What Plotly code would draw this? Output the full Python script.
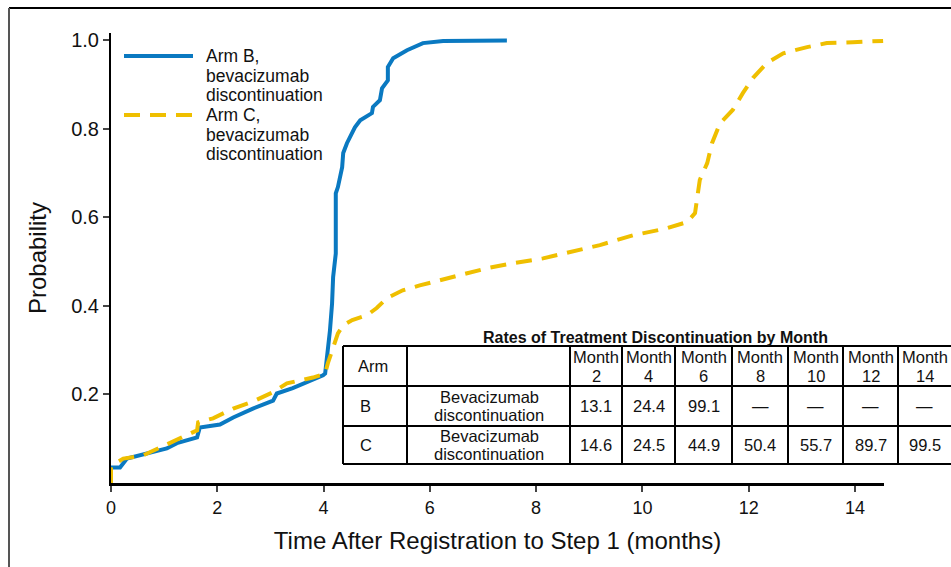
import plotly.graph_objects as go

# Cumulative probability of bevacizumab discontinuation
arm_b_months = [0, 0.17, 0.30, 0.68, 1.05, 1.24, 1.62, 1.67, 2.05, 2.30, 2.67, 3.05, 3.12, 3.42,
                3.80, 3.99, 4.03, 4.08, 4.12, 4.16, 4.18, 4.23, 4.23, 4.27, 4.35, 4.37, 4.44,
                4.59, 4.69, 4.91, 4.93, 5.06, 5.10, 5.21, 5.21, 5.31, 5.57, 5.87, 6.25, 7.45]
arm_b_prob = [0.035, 0.035, 0.055, 0.067, 0.078, 0.090, 0.103, 0.125, 0.132, 0.148, 0.168, 0.186,
              0.202, 0.214, 0.232, 0.243, 0.247, 0.293, 0.344, 0.405, 0.465, 0.518, 0.654, 0.668,
              0.713, 0.745, 0.767, 0.803, 0.819, 0.835, 0.849, 0.864, 0.891, 0.909, 0.939, 0.959,
              0.977, 0.993, 0.998, 0.999]

arm_c_months = [0, 0, 0.02, 0.23, 0.60, 0.92, 1.30, 1.62, 1.64, 1.92, 2.30, 2.67, 3.05, 3.31,
                3.80, 4.03, 4.08, 4.18, 4.27, 4.37, 4.54, 4.82, 5.00, 5.19, 5.49, 5.81, 6.19,
                6.70, 7.08, 7.56, 8.13, 9.20, 9.82, 10.46, 10.84, 10.99, 11.03, 11.08, 11.22,
                11.31, 11.46, 11.70, 11.89, 12.08, 12.34, 12.65, 13.10, 13.47, 13.96, 14.53]
arm_c_prob = [0, 0.035, 0.040, 0.055, 0.062, 0.080, 0.103, 0.119, 0.137, 0.146, 0.168, 0.184,
              0.205, 0.225, 0.238, 0.247, 0.270, 0.306, 0.338, 0.356, 0.368, 0.379, 0.395, 0.417,
              0.435, 0.446, 0.458, 0.473, 0.485, 0.496, 0.507, 0.537, 0.559, 0.575, 0.589, 0.609,
              0.638, 0.684, 0.722, 0.767, 0.812, 0.842, 0.880, 0.914, 0.948, 0.970, 0.984, 0.993,
              0.995, 0.998]

# Inset table: rates (%) by month
table_title = "Rates of Treatment Discontinuation by Month"
table_months = [2, 4, 6, 8, 10, 12, 14]
table_arms = ["B", "C"]
table_label = "Bevacizumab<br>discontinuation"
rates_b = ["13.1", "24.4", "99.1", "—", "—", "—", "—"]
rates_c = ["14.6", "24.5", "44.9", "50.4", "55.7", "89.7", "99.5"]

legend_labels = [["Arm B,", "bevacizumab", "discontinuation"],
                 ["Arm C,", "bevacizumab", "discontinuation"]]

x_ticks = [0, 2, 4, 6, 8, 10, 12, 14]
y_ticks = [0.2, 0.4, 0.6, 0.8, 1.0]

BLUE = "#0a79c1"
GOLD = "#efbf00"
FONT = "Liberation Sans, Arial, sans-serif"

W, H = 951, 567
L, R, T, B = 111, 67, 33, 84
PW, PH = W - L - R, H - T - B


def px(x):
    return (x - L) / PW


def py(y):
    return (H - B - y) / PH


fig = go.Figure()
fig.add_trace(go.Scatter(x=arm_b_months, y=arm_b_prob, mode="lines",
                         line=dict(color=BLUE, width=4), showlegend=False))
fig.add_trace(go.Scatter(x=arm_c_months, y=arm_c_prob, mode="lines",
                         line=dict(color=GOLD, width=4, dash="16px,10px"), showlegend=False))

shapes = []
annotations = []

# outer frame (top and left edges)
shapes.append(dict(type="line", xref="paper", yref="paper", x0=px(9), x1=px(960),
                   y0=py(8), y1=py(8), line=dict(color="black", width=2)))
shapes.append(dict(type="line", xref="paper", yref="paper", x0=px(9), x1=px(9),
                   y0=py(8), y1=py(575), line=dict(color="#555555", width=2)))

# legend
legend_rows = [(56, BLUE, "solid"), (115, GOLD, "16px,10px")]
for (ly, col, dash), lines in zip(legend_rows, legend_labels):
    shapes.append(dict(type="line", xref="paper", yref="paper", x0=px(124), x1=px(193),
                       y0=py(ly), y1=py(ly), line=dict(color=col, width=4, dash=dash)))
    for i, txt in enumerate(lines):
        annotations.append(dict(text=txt, xref="paper", yref="paper", x=px(204),
                                y=py(ly + i * 19.5), xanchor="left", yanchor="middle",
                                showarrow=False, font=dict(family=FONT, size=17.5, color="#111")))

# table geometry
col_x = [343, 407, 570, 622, 675, 732, 788, 843, 898]
row_y = [346, 386, 426, 464]
right_edge = 960
for y in row_y:
    shapes.append(dict(type="line", xref="paper", yref="paper", x0=px(343), x1=px(right_edge),
                       y0=py(y), y1=py(y), line=dict(color="black", width=2)))
for x in col_x:
    shapes.append(dict(type="line", xref="paper", yref="paper", x0=px(x), x1=px(x),
                       y0=py(row_y[0]), y1=py(row_y[-1]), line=dict(color="black", width=2)))
# white background behind the table
shapes.insert(0, dict(type="rect", xref="paper", yref="paper", x0=px(343), x1=px(right_edge),
                      y0=py(row_y[0]), y1=py(row_y[-1]), fillcolor="white",
                      line=dict(width=0), layer="above"))

TF = dict(family=FONT, size=16.5, color="#111")
annotations.append(dict(text="<b>" + table_title + "</b>", xref="paper", yref="paper",
                        x=px(655), y=py(337), xanchor="center", yanchor="middle",
                        showarrow=False, font=dict(family=FONT, size=16, color="#111")))
annotations.append(dict(text="Arm", xref="paper", yref="paper", x=px(356),
                        y=py(366), xanchor="left", yanchor="middle", showarrow=False, font=TF))
month_cols = list(zip(col_x[2:], col_x[3:] + [951]))
for (x0, x1), m in zip(month_cols, table_months):
    cx = (x0 + x1) / 2
    annotations.append(dict(text="Month", xref="paper", yref="paper", x=px(cx), y=py(357),
                            xanchor="center", yanchor="middle", showarrow=False, font=TF))
    annotations.append(dict(text=str(m), xref="paper", yref="paper", x=px(cx), y=py(376),
                            xanchor="center", yanchor="middle", showarrow=False, font=TF))
for r, (arm, rates) in enumerate(zip(table_arms, [rates_b, rates_c])):
    cy = (row_y[r + 1] + row_y[r + 2]) / 2
    annotations.append(dict(text=arm, xref="paper", yref="paper", x=px(358), y=py(cy),
                            xanchor="left", yanchor="middle", showarrow=False, font=TF))
    for k, line in enumerate(table_label.split("<br>")):
        annotations.append(dict(text=line, xref="paper", yref="paper", x=px(489),
                                y=py(cy - 9 + k * 18), xanchor="center", yanchor="middle",
                                showarrow=False, font=TF))
    for (x0, x1), v in zip(month_cols, rates):
        annotations.append(dict(text=v, xref="paper", yref="paper", x=px((x0 + x1) / 2),
                                y=py(cy), xanchor="center", yanchor="middle",
                                showarrow=False, font=TF))

fig.update_layout(
    width=W, height=H,
    margin=dict(l=L, r=R, t=T, b=B, pad=0),
    paper_bgcolor="white", plot_bgcolor="white",
    font=dict(family=FONT, color="#111"),
    shapes=shapes, annotations=annotations,
    showlegend=False,
    xaxis=dict(range=[0, PW / 53.14], tickvals=x_ticks, ticks="outside", ticklen=6,
               tickwidth=1.5, tickcolor="#444", showline=True, linecolor="black", linewidth=3,
               showgrid=False, zeroline=False, tickfont=dict(size=18, family=FONT),
               title=dict(text="Time After Registration to Step 1 (months)",
                          font=dict(size=24, family=FONT), standoff=16)),
    yaxis=dict(range=[0, PH / 443.0], tickvals=y_ticks,
               ticktext=[f"{v:.1f}" for v in y_ticks], ticks="outside", ticklen=6,
               tickwidth=1.5, tickcolor="#444", showline=True, linecolor="black", linewidth=2,
               showgrid=False, zeroline=False, tickfont=dict(size=20, family=FONT),
               title=dict(text="Probability", font=dict(size=24, family=FONT), standoff=18)),
)

fig.write_html("out.html")
